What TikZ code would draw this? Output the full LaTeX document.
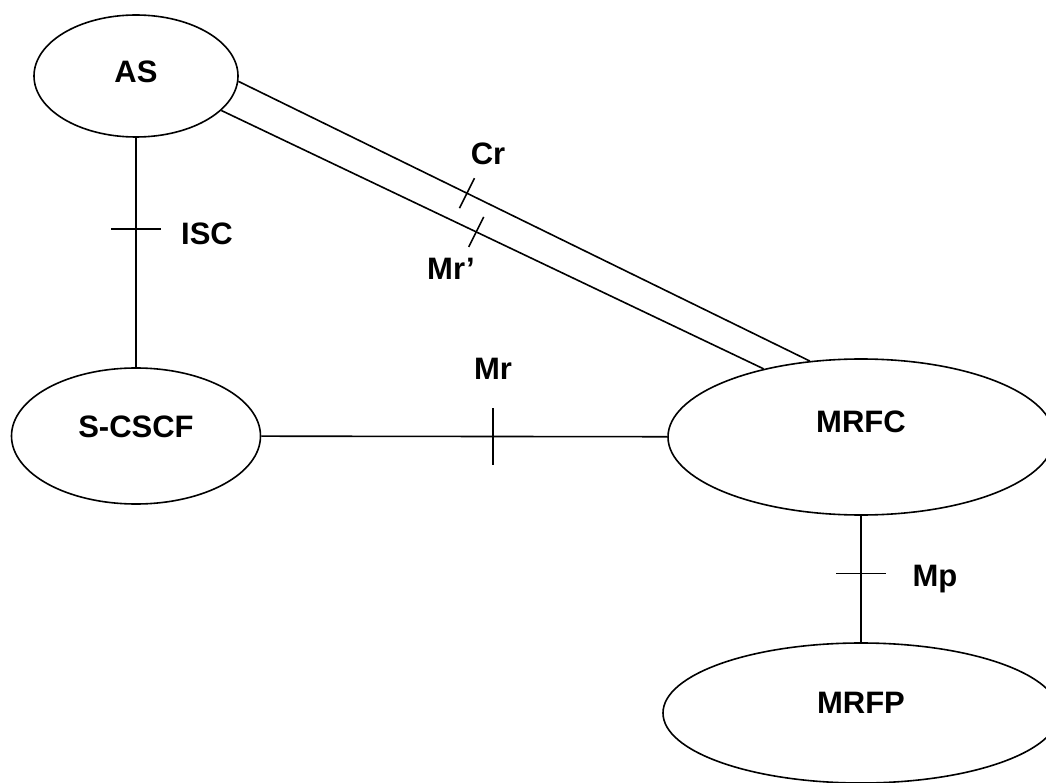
\documentclass[tikz,border=0pt]{standalone}
\usepackage{fontspec}
\setmainfont{Liberation Sans}
\usetikzlibrary{shapes.geometric}

\tikzset{
  entity/.style={ellipse, draw, inner sep=0pt},
  iface/.style={font=\fontsize{31}{37}\selectfont\bfseries, inner sep=0pt},
}

\begin{document}
\begin{tikzpicture}[x=1pt,y=-1pt,line width=1.6pt]
  \useasboundingbox (0,0) rectangle (1046,783);
  % network elements
  \node[entity, minimum width=204pt, minimum height=122pt,
    label={[iface,anchor=base,yshift=4pt]center:AS}] (as) at (136,76) {};
  \node[entity, minimum width=249pt, minimum height=136pt,
    label={[iface,anchor=base,yshift=9pt]center:S-CSCF}] (sc) at (136,436) {};
  \node[entity, minimum width=386pt, minimum height=156pt,
    label={[iface,anchor=base,yshift=15pt]center:MRFC}] (mrfc) at (861,437) {};
  \node[entity, minimum width=396pt, minimum height=140pt,
    label={[iface,anchor=base,yshift=10pt]center:MRFP}] (mrfp) at (861,713) {};
  % reference points
  \draw (as) -- coordinate[pos=0.398] (isct) (sc);
  \draw (as.-3) -- coordinate[pos=0.40] (crt) (mrfc.124);
  \draw (as.-22) -- coordinate[pos=0.47] (mrpt) (mrfc.145);
  \draw (sc) -- coordinate[pos=0.571] (mrt) (mrfc);
  \draw (mrfc) -- coordinate[pos=0.457] (mpt) (mrfp);
  \foreach \c in {isct,mpt}
    \draw ([xshift=-25pt]\c) -- ([xshift=25pt]\c);
  \foreach \c in {crt,mrpt}
    \draw ([shift={(-7.5,15)}]\c) -- ([shift={(7.5,-15)}]\c);
  \draw ([yshift=28pt]mrt) -- ([yshift=-29pt]mrt);
  % labels
  \node[iface, anchor=base] (isc) at (207,245) {ISC};
  \node[iface, anchor=base] (cr) at (488,165) {Cr};
  \node[iface, anchor=base] (mrp) at (451,280) {Mr’};
  \node[iface, anchor=base] (mr) at (493,379) {Mr};
  \node[iface, anchor=base] (mp) at (935,586) {Mp};
\end{tikzpicture}
\end{document}
